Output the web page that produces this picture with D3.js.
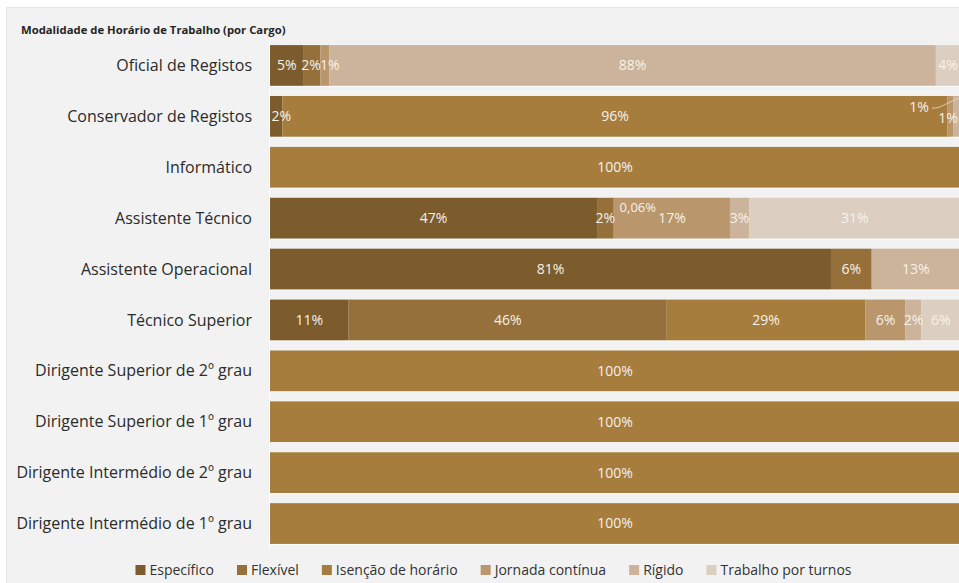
<!DOCTYPE html>
<html>
<head>
<meta charset="utf-8">
<script src="https://cdn.jsdelivr.net/npm/d3@7"></script>
<style>
  html, body { margin: 0; padding: 0; background: #fff; }
  svg { display: block; font-family: "Open Sans", "Noto Sans", sans-serif; }
</style>
</head>
<body>
<svg id="chart" width="959" height="583"></svg>
<script>
const title = 'Modalidade de Horário de Trabalho (por Cargo)';

const categories = [
  'Oficial de Registos',
  'Conservador de Registos',
  'Informático',
  'Assistente Técnico',
  'Assistente Operacional',
  'Técnico Superior',
  'Dirigente Superior de 2º grau',
  'Dirigente Superior de 1º grau',
  'Dirigente Intermédio de 2º grau',
  'Dirigente Intermédio de 1º grau'
];

const seriesNames = ['Específico', 'Flexível', 'Isenção de horário', 'Jornada contínua', 'Rígido', 'Trabalho por turnos'];

// shares in %, labels are shown rounded
const especifico = [4.9, 1.8, 0, 47.4, 81.3, 11.4, 0, 0, 0, 0];
const flexivel = [2.4, 0, 0, 2.4, 5.9, 46.1, 0, 0, 0, 0];
const isencao = [0, 96.4, 100, 0.06, 0, 28.8, 100, 100, 100, 100];
const jornada = [1.3, 0.8, 0, 16.8, 0, 5.8, 0, 0, 0, 0];
const rigido = [87.9, 1.0, 0, 2.8, 12.8, 2.3, 0, 0, 0, 0];
const turnos = [3.5, 0, 0, 30.6, 0, 5.6, 0, 0, 0, 0];

const colors = ['#7c5c2c', '#95703a', '#a67d3d', '#b9966b', '#cbb49b', '#dccfc2'];

const seriesValues = [especifico, flexivel, isencao, jornada, rigido, turnos];
const rows = categories.map((c, i) => {
  const r = { cargo: c };
  seriesNames.forEach((s, j) => { r[s] = seriesValues[j][i]; });
  return r;
});

const W = 959, H = 583;
const svg = d3.select('#chart');

// panel
svg.append('rect')
  .attr('x', 6.5).attr('y', 7.5)
  .attr('width', W - 6).attr('height', H - 7)
  .attr('fill', '#f2f2f2')
  .attr('stroke', '#e4e4e4');

svg.append('text')
  .attr('x', 21).attr('y', 34)
  .attr('font-size', 11.3).attr('font-weight', 700)
  .attr('fill', '#252525')
  .text(title);

const x = d3.scaleLinear().domain([0, 100]).range([270, 960]);
const y = d3.scaleBand().domain(categories).range([40, 549]).paddingInner(0.2).paddingOuter(0.1);
const color = d3.scaleOrdinal().domain(seriesNames).range(colors);

const stack = d3.stack().keys(seriesNames);
const layers = stack(rows);

const pt = d3.formatLocale({ decimal: ',', thousands: '.', grouping: [3], currency: ['', '€'] });
const fmt = v => (v < 0.5 ? pt.format('.2f')(v) : pt.format('.0f')(v)) + '%';

// white baseline on the left and highlight under each bar
svg.append('line')
  .attr('x1', 269.5).attr('x2', 269.5)
  .attr('y1', 40).attr('y2', 549)
  .attr('stroke', '#fff');

svg.append('g')
  .selectAll('line')
  .data(categories)
  .join('line')
  .attr('x1', x(0)).attr('x2', W)
  .attr('y1', d => y(d) + y.bandwidth() + 0.5)
  .attr('y2', d => y(d) + y.bandwidth() + 0.5)
  .attr('stroke', '#fff');

// bars
const layer = svg.append('g')
  .selectAll('g')
  .data(layers)
  .join('g')
  .attr('fill', d => color(d.key));

layer.selectAll('rect')
  .data(d => d.filter(s => s[1] - s[0] > 0))
  .join('rect')
  .attr('x', d => x(d[0]))
  .attr('y', d => y(d.data.cargo))
  .attr('width', d => x(d[1]) - x(d[0]))
  .attr('height', y.bandwidth());

// category labels
svg.append('g')
  .selectAll('text')
  .data(categories)
  .join('text')
  .attr('x', 252)
  .attr('y', d => y(d) + y.bandwidth() / 2)
  .attr('dy', '0.35em')
  .attr('text-anchor', 'end')
  .attr('font-size', 16)
  .attr('fill', '#2b2b2b')
  .text(d => d);

// data labels
const labels = [];
layers.forEach(l => {
  l.forEach(s => {
    const v = s.data[l.key];
    if (v > 0) labels.push({ key: l.key, cargo: s.data.cargo, v, x0: s[0], x1: s[1] });
  });
});

// small segments whose label is moved off centre
const nudge = {
  'Oficial de Registos|Flexível': { dx: -1 },
  'Oficial de Registos|Jornada contínua': { dx: 5 },
  'Assistente Técnico|Isenção de horário': { dx: 24, dy: -11, size: 13 },
  'Conservador de Registos|Específico': { dx: 5 },
  'Conservador de Registos|Jornada contínua': { dx: -29, dy: -9, leader: true },
  'Conservador de Registos|Rígido': { dy: 2 }
};

const lg = svg.append('g').attr('fill', '#f7f1e8');
labels.forEach(d => {
  const n = nudge[d.cargo + '|' + d.key] || {};
  const cx = Math.min((x(d.x0) + x(d.x1)) / 2, W - 11) + (n.dx || 0);
  const cy = y(d.cargo) + y.bandwidth() / 2 + (n.dy || 0);
  lg.append('text')
    .attr('x', cx).attr('y', cy)
    .attr('dy', '0.35em')
    .attr('text-anchor', 'middle')
    .attr('font-size', n.size || 14)
    .text(fmt(d.v));
  if (n.leader) {
    lg.append('path')
      .attr('d', `M${cx + 13},${cy + 1} L${cx + 20},${cy} L${W},${y(d.cargo) + 2}`)
      .attr('fill', 'none')
      .attr('stroke', '#e6dccd')
      .attr('stroke-width', 0.8);
  }
});

// legend
const legend = svg.append('g').attr('transform', 'translate(0,570)');
const items = legend.selectAll('g')
  .data(seriesNames)
  .join('g');
items.append('rect')
  .attr('y', -5).attr('width', 10).attr('height', 10)
  .attr('fill', d => color(d));
items.append('text')
  .attr('x', 14).attr('dy', '0.35em')
  .attr('font-size', 14)
  .attr('fill', '#333')
  .text(d => d);

const gap = 23;
let pos = 0;
const offs = [];
items.each(function () {
  offs.push(pos);
  const w = d3.select(this).select('text').node().getComputedTextLength();
  pos += 14 + w + gap;
});
const total = pos - gap;
const start = 493.5 - total / 2;
items.attr('transform', (d, i) => `translate(${start + offs[i]},0)`);
</script>
</body>
</html>
